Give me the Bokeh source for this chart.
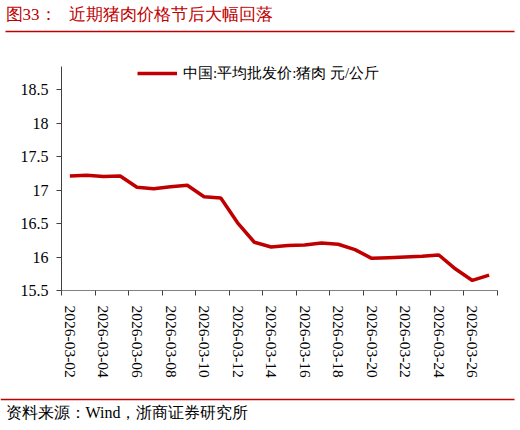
from bokeh.plotting import figure
from bokeh.layouts import column
from bokeh.models import Range1d, FixedTicker, NumeralTickFormatter
from bokeh.core.properties import value
from bokeh.embed import file_html
from bokeh.resources import INLINE

# data
dates = ["2026-03-02", "2026-03-03", "2026-03-04", "2026-03-05", "2026-03-06",
         "2026-03-07", "2026-03-08", "2026-03-09", "2026-03-10", "2026-03-11",
         "2026-03-12", "2026-03-13", "2026-03-14", "2026-03-15", "2026-03-16",
         "2026-03-17", "2026-03-18", "2026-03-19", "2026-03-20", "2026-03-21",
         "2026-03-22", "2026-03-23", "2026-03-24", "2026-03-25", "2026-03-26",
         "2026-03-27"]
prices = [17.21, 17.22, 17.20, 17.21, 17.04, 17.02, 17.05, 17.07, 16.90, 16.88,
          16.51, 16.22, 16.15, 16.17, 16.18, 16.21, 16.19, 16.11, 15.98, 15.99,
          16.00, 16.01, 16.03, 15.82, 15.65, 15.73]
y_ticks = [15.5, 16, 16.5, 17, 17.5, 18, 18.5]

# non-breaking spaces keep the gap after the colon (svg collapses plain spaces)
title_text = "图33：\u00a0\u00a0\u00a0近期猪肉价格节后大幅回落"
legend_text = "中国:平均批发价:猪肉 元/公斤"
source_text = "资料来源：Wind，浙商证券研究所"

RED = "#C00000"
FONT = "serif"
W = 520


def strip(h):
    f = figure(width=W, height=h, x_range=Range1d(0, W), y_range=Range1d(0, h),
               min_border=0, toolbar_location=None, output_backend="svg",
               x_axis_location=None, y_axis_location=None, frame_align=False)
    f.grid.visible = False
    f.outline_line_color = None
    return f


# header: title + red rule
top = strip(40)
top.text(x=[5], y=[26], text=[title_text], text_font=value(FONT),
         text_font_size="17px", text_color=RED, text_baseline="middle")
top.segment(x0=[5], y0=[9], x1=[514], y1=[9], line_color=RED, line_width=1.5)

# main chart
xs = list(range(len(dates)))
p = figure(width=W, height=352, toolbar_location=None, output_backend="svg",
           x_range=Range1d(-0.5, len(dates) - 0.5),
           y_range=Range1d(15.5, 15.5 + 224 / 67),
           min_border_left=61, min_border_right=23, min_border_top=26,
           min_border_bottom=102, frame_align=False)
p.grid.visible = False
p.outline_line_color = None

p.line(xs, prices, line_color=RED, line_width=3.5, legend_label=legend_text)

# y axis
p.yaxis.ticker = FixedTicker(ticks=y_ticks, minor_ticks=[])
p.yaxis.formatter = NumeralTickFormatter(format="0.[0]")
p.yaxis.major_tick_out = 5
p.yaxis.major_tick_in = 0
p.yaxis.major_label_standoff = 8
p.yaxis.major_label_text_font = FONT
p.yaxis.major_label_text_font_size = "16px"
p.yaxis.major_label_text_color = "#000000"
p.yaxis.axis_line_color = "#404040"
p.yaxis.major_tick_line_color = "#404040"

# x axis: labels every other day, tick marks between categories
lab_pos = xs[::2]
p.xaxis.ticker = FixedTicker(ticks=lab_pos,
                             minor_ticks=[i - 0.5 for i in range(0, len(dates) + 1, 2)])
p.xaxis.major_label_overrides = {i: dates[i] for i in lab_pos}
p.xaxis.major_tick_out = 0
p.xaxis.major_tick_in = 0
p.xaxis.minor_tick_out = 5
p.xaxis.minor_tick_in = 0
p.xaxis.minor_tick_line_color = "#404040"
p.xaxis.axis_line_color = "#808080"
p.xaxis.major_label_orientation = "vertical"
p.xaxis.major_label_standoff = 10
p.xaxis.major_label_text_font = FONT
p.xaxis.major_label_text_font_size = "15.5px"
p.xaxis.major_label_text_color = "#000000"

# legend
p.legend.location = (76, 206)
p.legend.margin = 0
p.legend.padding = 0
p.legend.border_line_color = None
p.legend.background_fill_alpha = 0
p.legend.glyph_width = 40
p.legend.glyph_height = 22
p.legend.label_height = 22
p.legend.label_standoff = 6
p.legend.label_text_font = FONT
p.legend.label_text_font_size = "15px"
p.legend.label_text_color = "#000000"

# footer: red rule + source
bottom = strip(38)
bottom.segment(x0=[0], y0=[31], x1=[514], y1=[31], line_color=RED, line_width=1.5)
bottom.text(x=[5], y=[18], text=[source_text], text_font=value(FONT),
            text_font_size="16px", text_color="#000000", text_baseline="middle")

layout = column(top, p, bottom, spacing=0)
open("out.html", "w").write(file_html(layout, INLINE))
